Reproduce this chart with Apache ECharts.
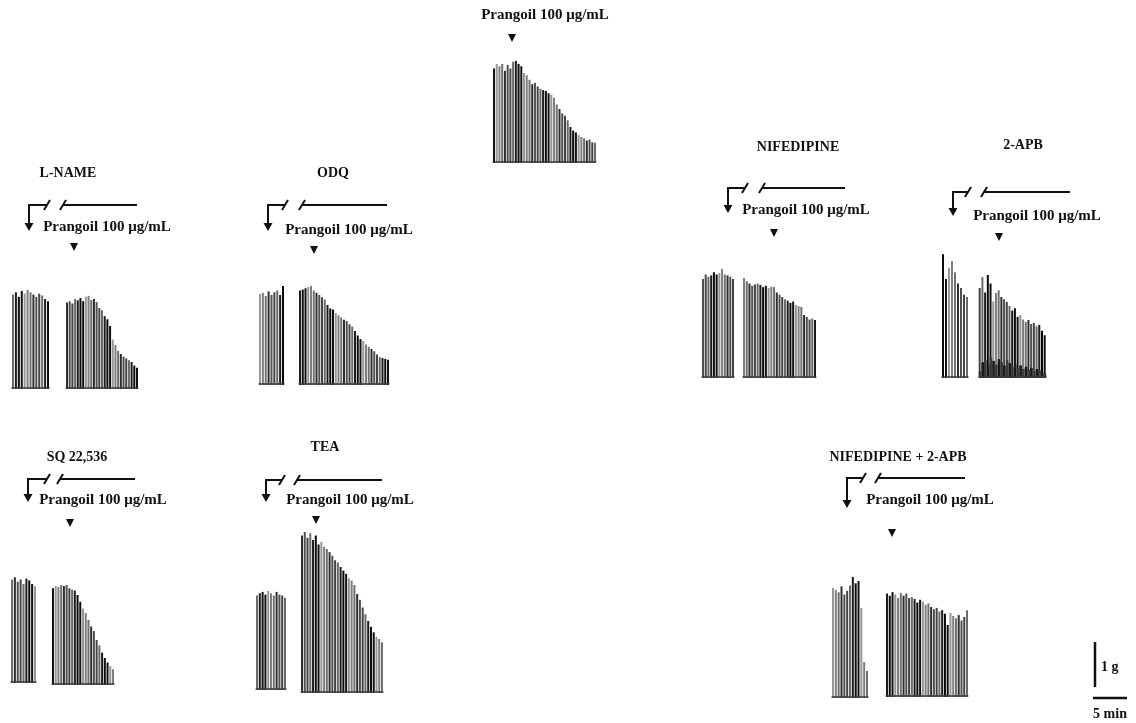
<!DOCTYPE html>
<html><head><meta charset="utf-8">
<script src="https://cdn.jsdelivr.net/npm/echarts@6/dist/echarts.min.js"></script>
<style>html,body{margin:0;padding:0;background:#fff}#c{width:1136px;height:723px}</style>
</head><body><div id="c"></div>
<script>
// Contraction amplitudes (g), one value per contraction
const prangoilAlone = [2.1,2.2,2.15,2.2,2.05,2.18,2.1,2.25,2.27,2.2,2.15,2.0,1.95,1.85,1.75,1.78,1.7,1.65,1.62,1.6,1.55,1.52,1.45,1.3,1.2,1.1,1.05,0.95,0.8,0.72,0.68,0.62,0.58,0.55,0.5,0.52,0.46,0.45];
const lnameCtrl = [2.1,2.15,2.05,2.18,2.12,2.2,2.15,2.1,2.05,2.12,2.08,2.0,1.95];
const lnameDrug = [1.92,1.95,1.9,2.0,1.97,2.02,1.95,2.05,2.07,1.98,2.0,1.93,1.8,1.75,1.62,1.55,1.4,1.1,0.98,0.85,0.78,0.72,0.68,0.64,0.6,0.52,0.47];
const odqCtrl = [2.02,2.05,1.98,2.08,2.0,2.06,2.1,2.0,2.2];
const odqDrug = [2.1,2.12,2.15,2.18,2.2,2.1,2.05,2.0,1.95,1.9,1.78,1.7,1.68,1.6,1.55,1.5,1.45,1.42,1.35,1.3,1.2,1.1,1.02,0.98,0.9,0.85,0.8,0.75,0.68,0.62,0.6,0.58,0.56];
const nifCtrl = [2.2,2.3,2.25,2.28,2.35,2.3,2.33,2.42,2.3,2.28,2.25,2.2];
const nifDrug = [2.22,2.15,2.1,2.05,2.08,2.1,2.07,2.02,2.05,2.0,2.03,2.02,1.9,1.85,1.8,1.75,1.72,1.67,1.7,1.62,1.6,1.58,1.4,1.36,1.3,1.32,1.29];
const apbCtrl = [2.75,2.2,2.45,2.6,2.35,2.1,2.0,1.85,1.8];
const apbDrug = [2.0,2.24,1.9,2.29,2.1,1.7,1.89,1.95,1.8,1.75,1.69,1.6,1.5,1.55,1.36,1.4,1.3,1.25,1.29,1.2,1.22,1.15,1.18,1.05,0.95];
const apbDrugTrough = [0.15,0.35,0.4,0.3,0.45,0.38,0.3,0.42,0.35,0.28,0.4,0.33,0.25,0.3,0.22,0.28,0.2,0.25,0.18,0.22,0.15,0.2,0.17,0.12,0.1];
const sqCtrl = [2.3,2.35,2.25,2.3,2.2,2.32,2.28,2.2,2.15];
const sqDrug = [2.15,2.2,2.18,2.22,2.2,2.22,2.15,2.12,2.1,2.0,1.85,1.7,1.6,1.45,1.3,1.2,1.0,0.88,0.72,0.6,0.5,0.42,0.35];
const teaCtrl = [2.1,2.15,2.18,2.12,2.2,2.15,2.1,2.18,2.12,2.1,2.05];
const teaDrug = [3.5,3.58,3.45,3.55,3.4,3.5,3.3,3.36,3.25,3.2,3.13,3.05,2.95,2.9,2.8,2.72,2.65,2.55,2.5,2.4,2.2,2.07,1.9,1.75,1.6,1.47,1.35,1.25,1.2,1.13];
const nnCtrl = [2.45,2.4,2.35,2.48,2.3,2.38,2.5,2.69,2.55,2.6,2.0,0.8,0.6];
const nnDrug = [2.3,2.25,2.33,2.28,2.2,2.31,2.25,2.3,2.2,2.22,2.18,2.1,2.16,2.12,2.05,2.08,2.0,1.95,1.98,1.9,1.93,1.85,1.6,1.87,1.8,1.75,1.82,1.7,1.78,1.93];

const titles = ['L-NAME','ODQ','NIFEDIPINE','2-APB','SQ 22,536','TEA','NIFEDIPINE + 2-APB'];
const drugLabel = 'Prangoil 100 \u03bcg/mL';
const scaleLabels = ['1 g','5 min'];

// layout
const PXG = 45, YMAX = 3.6, H = PXG * YMAX;
const segs = [
  {d: prangoilAlone, x0: 494, x1: 595, b: 163},
  {d: lnameCtrl, x0: 13, x1: 48, b: 389}, {d: lnameDrug, x0: 67, x1: 137, b: 389},
  {d: odqCtrl, x0: 260, x1: 283, b: 385}, {d: odqDrug, x0: 300, x1: 388, b: 385},
  {d: nifCtrl, x0: 703, x1: 733, b: 378}, {d: nifDrug, x0: 744, x1: 815, b: 378},
  {d: apbCtrl, x0: 943, x1: 967, b: 378}, {d: apbDrug, x0: 980, x1: 1045, b: 378, trough: apbDrugTrough},
  {d: sqCtrl, x0: 12, x1: 35, b: 683}, {d: sqDrug, x0: 53, x1: 113, b: 685},
  {d: teaCtrl, x0: 257, x1: 285, b: 690}, {d: teaDrug, x0: 302, x1: 382, b: 693},
  {d: nnCtrl, x0: 833, x1: 867, b: 698}, {d: nnDrug, x0: 887, x1: 967, b: 697}
];
const palette = ['#111111','#6a6a6a','#2e2e2e','#969696','#1c1c1c','#505050','#7e7e7e','#0a0a0a','#444444','#707070'];

const grid = [], xAxis = [], yAxis = [], series = [];
segs.forEach((s, k) => {
  const step = (s.x1 - s.x0) / Math.max(1, s.d.length - 1);
  grid.push({left: s.x0 - step / 2, top: s.b - H, width: s.x1 - s.x0 + step, height: H});
  xAxis.push({type: 'category', gridIndex: k, show: false, data: s.d.map((_, i) => i)});
  yAxis.push({type: 'value', gridIndex: k, show: false, min: 0, max: YMAX});
  series.push({type: 'bar', xAxisIndex: k, yAxisIndex: k, data: s.d, barWidth: 2, silent: true,
    itemStyle: {color: p => palette[(p.dataIndex * 3 + k) % palette.length]},
    markLine: {silent: true, symbol: 'none', label: {show: false},
      lineStyle: {color: '#3a3a3a', width: 1.5, type: 'solid'}, data: [{yAxis: 0.02}]}});
  if (s.trough) {
    series.push({type: 'bar', xAxisIndex: k, yAxisIndex: k, data: s.trough, barWidth: 2.6, barGap: '-100%', silent: true,
      itemStyle: {color: p => (p.dataIndex % 2 ? '#1a1a1a' : '#3a3a3a')}});
  }
});

// annotations
const font = 'bold 15px "Liberation Serif", "Times New Roman", serif';
const tfont = 'bold 14px "Liberation Serif", "Times New Roman", serif';
const g = [];
function txt(t, x, y, f, align) {
  g.push({type: 'text', x: x, y: y, style: {text: t, font: f || font, fill: '#111', align: align || 'center', verticalAlign: 'middle'}});
}
function tri(x, y) {
  g.push({type: 'polygon', shape: {points: [[x - 4, y - 4], [x + 4, y - 4], [x, y + 4]]}, style: {fill: '#111'}});
}
function bracket(ax, hy, tip, s1, s2, end) {
  const ls = {stroke: '#111', lineWidth: 2};
  g.push({type: 'polyline', shape: {points: [[ax, tip - 7], [ax, hy], [s1, hy]]}, style: ls});
  g.push({type: 'polygon', shape: {points: [[ax - 4.5, tip - 8], [ax + 4.5, tip - 8], [ax, tip]]}, style: {fill: '#111'}});
  g.push({type: 'line', shape: {x1: s1 - 3, y1: hy + 5, x2: s1 + 3, y2: hy - 5}, style: ls});
  g.push({type: 'line', shape: {x1: s2 - 3, y1: hy + 5, x2: s2 + 3, y2: hy - 5}, style: ls});
  g.push({type: 'line', shape: {x1: s2, y1: hy, x2: end, y2: hy}, style: ls});
}
// Prangoil alone
txt(drugLabel, 545, 15); tri(512, 38);
const panels = [
  {t: [68, 173], a: [29, 205, 231, 47, 63, 137], l: [107, 227], v: [74, 247]},
  {t: [333, 173], a: [268, 205, 231, 285, 302, 387], l: [349, 230], v: [314, 250]},
  {t: [798, 147], a: [728, 188, 213, 745, 762, 845], l: [806, 210], v: [774, 233]},
  {t: [1023, 145], a: [953, 192, 216, 968, 984, 1070], l: [1037, 216], v: [999, 237]},
  {t: [77, 457], a: [28, 479, 502, 47, 60, 135], l: [103, 500], v: [70, 523]},
  {t: [325, 447], a: [266, 480, 502, 282, 297, 382], l: [350, 500], v: [316, 520]},
  {t: [898, 457], a: [847, 478, 508, 863, 878, 965], l: [930, 500], v: [892, 533]}
];
panels.forEach((p, i) => {
  txt(titles[i], p.t[0], p.t[1], tfont);
  bracket.apply(null, p.a);
  txt(drugLabel, p.l[0], p.l[1]);
  tri(p.v[0], p.v[1]);
});
// scale bars
g.push({type: 'line', shape: {x1: 1095, y1: 642, x2: 1095, y2: 687}, style: {stroke: '#111', lineWidth: 2.5}});
g.push({type: 'line', shape: {x1: 1093, y1: 698, x2: 1127, y2: 698}, style: {stroke: '#111', lineWidth: 2.5}});
txt(scaleLabels[0], 1101, 667, tfont, 'left');
txt(scaleLabels[1], 1110, 714, tfont);

const chart = echarts.init(document.getElementById('c'), null, {renderer: 'canvas'});
chart.setOption({animation: false, backgroundColor: '#fff', grid, xAxis, yAxis, series, graphic: {elements: g}});
</script></body></html>
